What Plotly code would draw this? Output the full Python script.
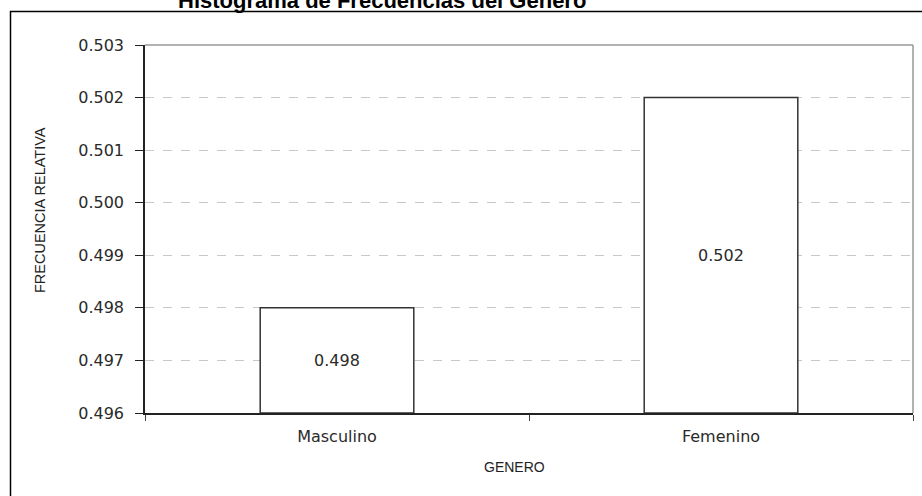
import plotly.graph_objects as go

categories = ["Masculino", "Femenino"]
frecuencia_relativa = [0.498, 0.502]
y_min, y_max = 0.496, 0.503
y_ticks = [0.496, 0.497, 0.498, 0.499, 0.500, 0.501, 0.502, 0.503]
title_text = "Histograma de Frecuencias del Genero"
x_title = "GENERO"
y_title = "FRECUENCIA RELATIVA"

W, H = 922, 496
L, R, T, B = 145, 9, 45, 83
pw, ph = W - L - R, H - T - B

def px_x(x):
    return (x - L) / pw

def px_y(y):
    return 1 - (y - T) / ph

tick_font = dict(family="DejaVu Sans, Verdana, Arial", size=16, color="#2a2a2a")

fig = go.Figure()
fig.add_trace(go.Bar(
    x=categories,
    y=[v - y_min for v in frecuencia_relativa],
    base=y_min,
    text=[f"{v:.3f}" for v in frecuencia_relativa],
    textposition="inside",
    insidetextanchor="middle",
    textfont=tick_font,
    marker=dict(color="white", line=dict(color="#333333", width=1.5)),
    width=0.4,
    hoverinfo="x+text",
))

fig.update_layout(
    width=W, height=H,
    margin=dict(l=L, r=R, t=T, b=B, autoexpand=False),
    paper_bgcolor="white", plot_bgcolor="white",
    font=dict(family="Arial, Liberation Sans", color="#222222"),
    showlegend=False,
    xaxis=dict(
        type="category",
        showline=True, linecolor="#222222", linewidth=1.5,
        ticks="outside", tickson="boundaries", ticklen=6, tickcolor="#444444",
        tickfont=tick_font, ticklabelstandoff=8,
        showgrid=False, automargin=False,
    ),
    yaxis=dict(
        range=[y_min, y_max],
        tickvals=y_ticks,
        ticktext=[f"{t:.3f}" for t in y_ticks],
        showline=True, linecolor="#222222", linewidth=1.5,
        ticks="outside", ticklen=8, tickcolor="#222222",
        tickfont=tick_font, ticklabelstandoff=8,
        showgrid=True, gridcolor="#c8c8c8", griddash="dash", gridwidth=1,
        zeroline=False, automargin=False,
    ),
    shapes=[
        dict(type="line", xref="paper", yref="paper", x0=0, x1=1, y0=1, y1=1,
             line=dict(color="#999999", width=1.5)),
        dict(type="line", xref="paper", yref="paper", x0=1, x1=1, y0=0, y1=1,
             line=dict(color="#999999", width=1.5)),
        dict(type="rect", xref="paper", yref="paper",
             x0=px_x(10.5), x1=px_x(930), y0=px_y(505), y1=px_y(11.5),
             line=dict(color="black", width=1.5), fillcolor="rgba(0,0,0,0)",
             layer="below"),
    ],
    annotations=[
        dict(text=f"<b>{title_text}</b>", xref="paper", yref="paper",
             x=px_x(382), y=px_y(15), xanchor="center", yanchor="bottom",
             showarrow=False, font=dict(size=22, color="black")),
        dict(text=y_title, xref="paper", yref="paper",
             x=px_x(40), y=px_y(210), xanchor="center", yanchor="middle",
             textangle=-90, showarrow=False,
             font=dict(size=14.5, color="#222222")),
        dict(text=x_title, xref="paper", yref="paper",
             x=px_x(514), y=px_y(467), xanchor="center", yanchor="middle",
             showarrow=False, font=dict(size=14, color="#222222")),
    ],
)

fig.write_html("out.html", config={"displayModeBar": False},
               post_script="document.body.style.margin='0';")
